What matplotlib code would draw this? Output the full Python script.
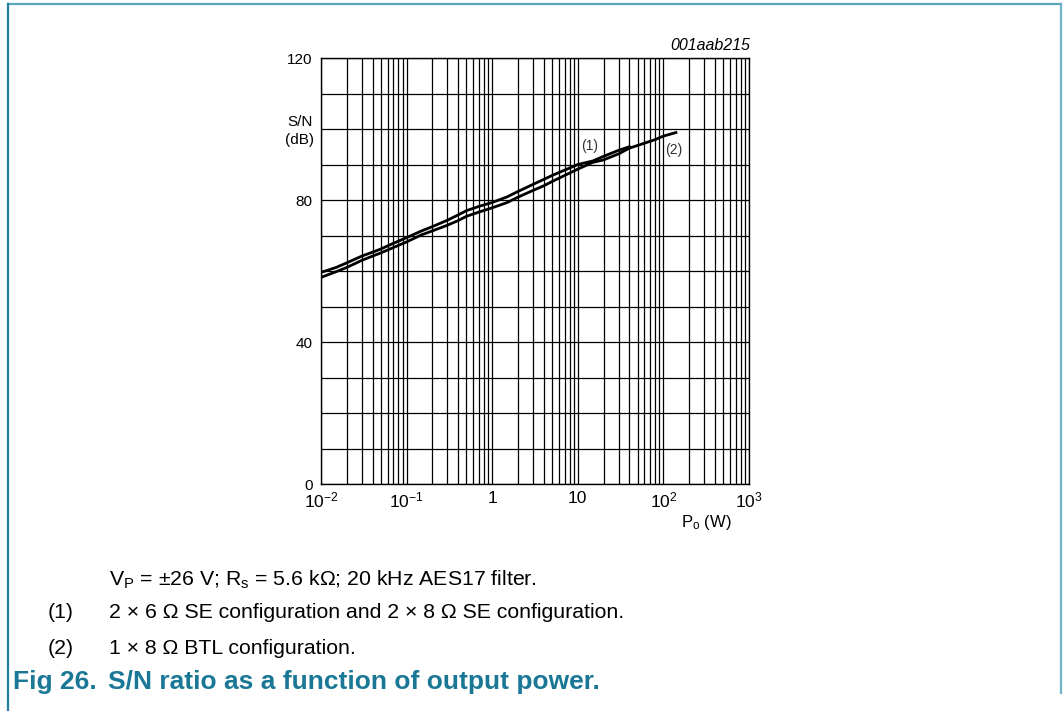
import numpy as np
import matplotlib
matplotlib.use('Agg')
import matplotlib.pyplot as plt
from matplotlib.lines import Line2D

plt.rcParams['font.family'] = ['Liberation Sans', 'DejaVu Sans']
plt.rcParams['mathtext.fontset'] = 'custom'
plt.rcParams['mathtext.rm'] = 'Liberation Sans'
plt.rcParams['mathtext.it'] = 'Liberation Sans:italic'

# data
po_1 = [0.01, 0.015, 0.02, 0.03, 0.04, 0.05, 0.07, 0.1, 0.15, 0.2, 0.3, 0.4, 0.5,
        0.7, 1, 1.5, 2, 3, 4, 5, 7, 10, 15, 20, 30, 40]
sn_1 = [59.6, 61.0, 62.3, 64.2, 65.3, 66.2, 67.8, 69.4, 71.3, 72.5, 74.3, 75.8, 77.0,
        78.2, 79.3, 80.9, 82.4, 84.4, 85.8, 86.9, 88.4, 90.0, 91.0, 92.3, 94.0, 95.0]
po_2 = [0.01, 0.015, 0.02, 0.03, 0.04, 0.05, 0.07, 0.1, 0.15, 0.2, 0.3, 0.4, 0.5,
        0.7, 1, 1.5, 2, 3, 4, 5, 7, 10, 15, 20, 30, 40, 60, 80, 100, 140]
sn_2 = [58.2, 59.8, 61.0, 63.0, 64.2, 65.1, 66.6, 68.2, 70.2, 71.3, 72.9, 74.2, 75.4,
        76.6, 77.8, 79.3, 80.8, 82.7, 84.0, 85.2, 86.9, 88.7, 90.6, 91.3, 93.0, 94.6,
        96.0, 97.0, 98.0, 99.0]

x_ticks = [0.01, 0.1, 1, 10, 100, 1000]
x_labels = [r'$10^{-2}$', r'$10^{-1}$', '1', '10', r'$10^{2}$', r'$10^{3}$']
y_ticks = [0, 40, 80, 120]

W, H = 1063, 711
fig = plt.figure(figsize=(W / 100, H / 100), dpi=100)
ax = fig.add_axes([321 / W, 1 - 484 / H, 428 / W, 426 / H])

ax.plot(po_1, sn_1, color='black', lw=2.0)
ax.plot(po_2, sn_2, color='black', lw=2.0)

ax.set_xscale('log')
ax.set_xlim(0.01, 1000)
ax.set_ylim(0, 120)
ax.set_xticks(x_ticks)
ax.set_xticklabels(x_labels)
ax.set_xticks([m * 10.0 ** e for e in range(-2, 3) for m in range(2, 10)], minor=True)
ax.xaxis.set_minor_formatter(matplotlib.ticker.NullFormatter())
ax.set_yticks(y_ticks)
ax.set_yticks(np.arange(0, 121, 10), minor=True)
ax.grid(True, which='both', color='black', lw=0.9)
ax.tick_params(which='both', length=0, labelsize=11, pad=6)
ax.tick_params(axis='x', labelsize=12.5, pad=5)
for s in ax.spines.values():
    s.set_linewidth(1.0)

# curve labels
ax.text(13.9, 95.2, '(1)', fontsize=10, color='#333333', ha='center', va='center')
ax.text(133, 94.1, '(2)', fontsize=10, color='#333333', ha='center', va='center')

fig.text(300 / W, 1 - 131 / H, 'S/N\n(dB)', ha='center', va='center', fontsize=11,
         linespacing=1.35)
fig.text(706 / W, 1 - 523 / H, r'P$_\mathregular{o}$ (W)', ha='center', va='center',
         fontsize=12)
fig.text(750 / W, 1 - 45 / H, '001aab215', ha='right', va='center', fontsize=11.5,
         style='italic')

# caption
cap = 15.3
fig.text(109 / W, 1 - 580 / H, 'V$_\\mathregular{P}$ = \u00b126 V; R$_\\mathregular{s}$ = 5.6 k\u03a9; 20 kHz AES17 filter.',
         ha='left', va='center', fontsize=cap)
fig.text(48 / W, 1 - 613 / H, '(1)', ha='left', va='center', fontsize=cap)
fig.text(109 / W, 1 - 613 / H, '2 \u00d7 6 \u03a9 SE configuration and 2 \u00d7 8 \u03a9 SE configuration.',
         ha='left', va='center', fontsize=cap)
fig.text(48 / W, 1 - 648 / H, '(2)', ha='left', va='center', fontsize=cap)
fig.text(109 / W, 1 - 648 / H, '1 \u00d7 8 \u03a9 BTL configuration.',
         ha='left', va='center', fontsize=cap)
fig.text(13 / W, 1 - 682 / H, 'Fig 26.', ha='left', va='center', fontsize=19,
         fontweight='bold', color='#1a7896')
fig.text(108 / W, 1 - 682 / H, 'S/N ratio as a function of output power.',
         ha='left', va='center', fontsize=19, fontweight='bold', color='#1a7896')

# page frame
fig.add_artist(Line2D([8 / W, 1061 / W], [1 - 4 / H, 1 - 4 / H], color='#5aa6bd', lw=1.6))
fig.add_artist(Line2D([8 / W, 8 / W], [1 - 4 / H, 0], color='#1f7f9e', lw=1.6))
fig.add_artist(Line2D([1061 / W, 1061 / W], [1 - 4 / H, 1 - 693 / H], color='#6fb3c8', lw=1.6))

fig.savefig('out.png', dpi=100)
